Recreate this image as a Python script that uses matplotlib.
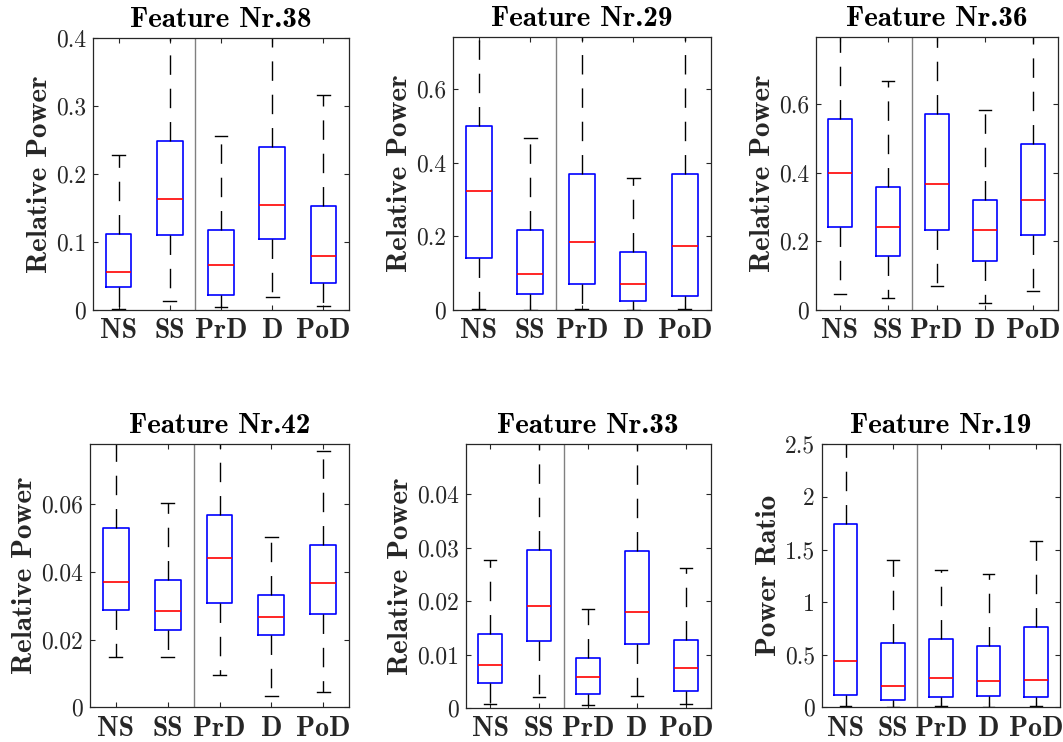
import matplotlib
matplotlib.use("Agg")
import matplotlib.pyplot as plt

plt.rcParams['lines.scale_dashes'] = False
plt.rcParams['axes.formatter.use_mathtext'] = True

groups = ['NS', 'SS', 'PrD', 'D', 'PoD']

# Feature Nr.38
f38_lo = [0.002, 0.0137, 0.004, 0.0196, 0.006]
f38_q1 = [0.0343, 0.1107, 0.022, 0.105, 0.0397]
f38_med = [0.0558, 0.163, 0.0666, 0.1547, 0.0788]
f38_q3 = [0.1116, 0.2492, 0.118, 0.2394, 0.1523]
f38_hi = [0.2277, 0.43, 0.2556, 0.42, 0.3168]

# Feature Nr.29
f29_lo = [0.002, 0.001, 0.002, 0.001, 0.002]
f29_q1 = [0.142, 0.0443, 0.0697, 0.0235, 0.038]
f29_med = [0.323, 0.0986, 0.184, 0.0697, 0.174]
f29_q3 = [0.5005, 0.217, 0.371, 0.158, 0.371]
f29_hi = [0.80, 0.468, 0.78, 0.360, 0.77]

# Feature Nr.36
f36_lo = [0.0466, 0.036, 0.0709, 0.021, 0.0563]
f36_q1 = [0.243, 0.156, 0.234, 0.144, 0.219]
f36_med = [0.399, 0.242, 0.368, 0.233, 0.322]
f36_q3 = [0.556, 0.360, 0.571, 0.322, 0.483]
f36_hi = [0.83, 0.668, 0.85, 0.584, 0.82]

# Feature Nr.42
f42_lo = [0.01488, 0.01478, 0.00946, 0.00335, 0.00443]
f42_q1 = [0.0287, 0.0227, 0.0307, 0.0213, 0.0275]
f42_med = [0.0370, 0.0286, 0.0442, 0.0268, 0.0366]
f42_q3 = [0.0531, 0.0377, 0.0567, 0.0333, 0.0479]
f42_hi = [0.082, 0.0603, 0.080, 0.0504, 0.0756]

# Feature Nr.33
f33_lo = [0.00081, 0.00212, 0.0005, 0.00218, 0.00075]
f33_q1 = [0.00462, 0.01254, 0.00262, 0.01192, 0.00324]
f33_med = [0.00811, 0.019, 0.00574, 0.01797, 0.00755]
f33_q3 = [0.01379, 0.0295, 0.00942, 0.02938, 0.01273]
f33_hi = [0.02764, 0.052, 0.0186, 0.051, 0.0262]

# Feature Nr.19
f19_lo = [0.0127, 0.003, 0.016, 0.003, 0.0127]
f19_q1 = [0.120, 0.073, 0.095, 0.111, 0.101]
f19_med = [0.440, 0.206, 0.279, 0.250, 0.263]
f19_q3 = [1.743, 0.615, 0.646, 0.583, 0.764]
f19_hi = [3.2, 1.404, 1.302, 1.271, 1.584]

panels = [
    dict(title='Feature Nr.38', ylabel='Relative Power', ylim=0.4,
         yticks=[0, 0.1, 0.2, 0.3, 0.4],
         data=(f38_lo, f38_q1, f38_med, f38_q3, f38_hi),
         rect=(93, 38, 349, 310)),
    dict(title='Feature Nr.29', ylabel='Relative Power', ylim=0.742,
         yticks=[0, 0.2, 0.4, 0.6],
         data=(f29_lo, f29_q1, f29_med, f29_q3, f29_hi),
         rect=(453, 37, 710.5, 310)),
    dict(title='Feature Nr.36', ylabel='Relative Power', ylim=0.796,
         yticks=[0, 0.2, 0.4, 0.6],
         data=(f36_lo, f36_q1, f36_med, f36_q3, f36_hi),
         rect=(815.7, 37, 1057.5, 310)),
    dict(title='Feature Nr.42', ylabel='Relative Power', ylim=0.0778,
         yticks=[0, 0.02, 0.04, 0.06],
         data=(f42_lo, f42_q1, f42_med, f42_q3, f42_hi),
         rect=(90, 444, 349, 707.3)),
    dict(title='Feature Nr.33', ylabel='Relative Power', ylim=0.0493,
         yticks=[0, 0.01, 0.02, 0.03, 0.04],
         data=(f33_lo, f33_q1, f33_med, f33_q3, f33_hi),
         rect=(465.7, 444.3, 710.5, 708)),
    dict(title='Feature Nr.19', ylabel='Power Ratio', ylim=2.5,
         yticks=[0, 0.5, 1, 1.5, 2, 2.5],
         data=(f19_lo, f19_q1, f19_med, f19_q3, f19_hi),
         rect=(821.7, 444.3, 1060, 707.3)),
]

W, H = 1063, 742
fig = plt.figure(figsize=(W / 100, H / 100), dpi=100)

spine_col = (0.15, 0.15, 0.15)
bold_font = 'cmb10'
num_font = 'cmr10'

for p in panels:
    l, t, r, b = p['rect']
    ax = fig.add_axes([l / W, 1 - b / H, (r - l) / W, (b - t) / H])
    lo, q1, med, q3, hi = p['data']
    stats = [dict(label=g, whislo=lo[i], q1=q1[i], med=med[i], q3=q3[i],
                  whishi=hi[i], fliers=[]) for i, g in enumerate(groups)]
    ax.bxp(stats, positions=range(1, 6), widths=0.5, capwidths=0.25,
           showfliers=False,
           boxprops=dict(color='blue', linewidth=1.2),
           medianprops=dict(color='red', linewidth=1.2),
           whiskerprops=dict(color='black', linewidth=1.0,
                             linestyle=(0, (14, 10))),
           capprops=dict(color='black', linewidth=1.0))
    ax.axvline(2.5, color=(0.5, 0.5, 0.5), linewidth=1.0, zorder=0.5)
    ax.set_xlim(0.5, 5.5)
    ax.set_ylim(0, p['ylim'])
    ax.set_yticks(p['yticks'])
    ax.set_yticklabels(['%g' % v for v in p['yticks']],
                       fontfamily=num_font, fontsize=17, color=spine_col)
    ax.set_xticks(range(1, 6))
    ax.set_xticklabels(groups, fontfamily=bold_font, fontsize=20,
                       color=spine_col)
    ax.tick_params(direction='in', length=3.5, width=0.8, color=spine_col,
                   top=True, right=True)
    ax.tick_params(axis='x', pad=6)
    ax.tick_params(axis='y', pad=5)
    for s in ax.spines.values():
        s.set_color(spine_col)
        s.set_linewidth(0.9)
    ax.set_title(p['title'], fontfamily=bold_font, fontsize=21, pad=8,
                 color='black')
    ax.set_ylabel(p['ylabel'], fontfamily=bold_font, fontsize=21,
                  labelpad=2, color=spine_col)

fig.savefig('out.png', dpi=100)
